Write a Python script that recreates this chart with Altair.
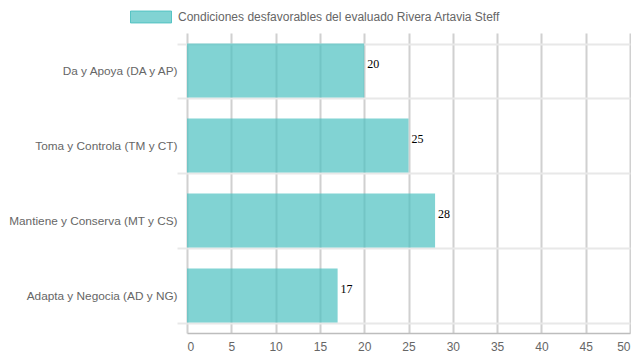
import altair as alt
import pandas as pd

categorias = [
    "Da y Apoya (DA y AP)",
    "Toma y Controla (TM y CT)",
    "Mantiene y Conserva (MT y CS)",
    "Adapta y Negocia (AD y NG)",
]
valores = [20, 25, 28, 17]
serie = "Condiciones desfavorables del evaluado Rivera Artavia Steff"
ticks_x = [0, 5, 10, 15, 20, 25, 30, 35, 40, 45, 50]

df = pd.DataFrame({"cat": categorias, "val": valores, "serie": [serie] * len(valores)})

base = alt.Chart(df)

bars = base.mark_bar(fill="rgba(75,192,192,0.7)").encode(
    y=alt.Y(
        "cat:N",
        sort=categorias,
        title=None,
        scale=alt.Scale(paddingInner=0.28, paddingOuter=0.14),
        axis=alt.Axis(
            domain=False,
            grid=True,
            gridColor="#e8e8e8",
            gridWidth=2,
            tickBand="extent",
            ticks=True,
            tickColor="#e8e8e8",
            tickWidth=2,
            tickSize=10,
            labelPadding=0,
            labelLimit=300,
            labelFont="Liberation Sans",
            labelFontSize=11.8,
            labelColor="#666666",
        ),
    ),
    x=alt.X(
        "val:Q",
        title=None,
        scale=alt.Scale(domain=[0, 50], nice=False),
        axis=alt.Axis(
            values=ticks_x,
            grid=True,
            gridColor="#d0d0d0",
            gridWidth=2,
            domain=True,
            domainColor="#bdbdbd",
            domainWidth=1.5,
            ticks=False,
            labelPadding=8,
            labelFont="Liberation Sans",
            labelFontSize=12,
            labelColor="#666666",
        ),
    ),
    color=alt.Color(
        "serie:N",
        scale=alt.Scale(range=["rgba(75,192,192,0.7)"]),
        legend=alt.Legend(
            title=None,
            orient="none",
            legendX=-57,
            legendY=-37,
            padding=0,
            symbolType="M-1,-0.29L1,-0.29L1,0.29L-1,0.29Z",
            symbolSize=1681,
            symbolStrokeColor="rgba(75,192,192,0.9)",
            symbolStrokeWidth=1,
            symbolOpacity=1,
            labelFont="Liberation Sans",
            labelFontSize=12,
            labelColor="#666666",
            labelOffset=6,
            labelLimit=600,
        ),
    ),
)

labels = base.mark_text(
    align="left", baseline="middle", dx=3, dy=-7,
    font="Liberation Serif", fontSize=12, color="black",
).encode(
    y=alt.Y("cat:N", sort=categorias),
    x=alt.X("val:Q"),
    text=alt.Text("val:Q"),
)

chart = (
    alt.layer(bars, labels)
    .properties(
        width=443,
        height=300,
        autosize=alt.AutoSizeParams(type="none"),
        padding={"left": 179, "top": 25, "right": 1, "bottom": 20},
    )
    .configure_view(stroke=None)
)

chart.save("out.html", embed_options={"renderer": "svg", "actions": False})
